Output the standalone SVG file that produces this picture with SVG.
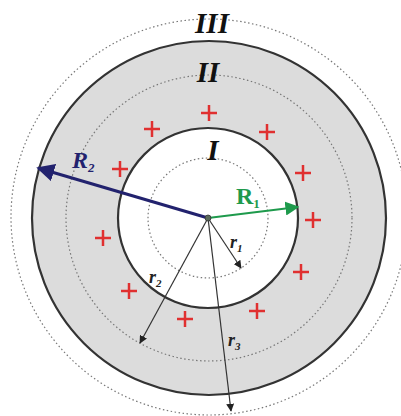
<svg xmlns="http://www.w3.org/2000/svg" width="401" height="416" viewBox="0 0 401 416">
<defs>
<style>
.dot{fill:none;stroke:#777;stroke-width:1.2;stroke-dasharray:1.5 2.5}
.sol{stroke:#333;stroke-width:2.2}
.plus{fill:none;stroke:#e03030;stroke-width:2.5}
.roman{font-family:"Liberation Serif",serif;font-weight:bold;font-style:italic;fill:#111;text-anchor:middle}
.lab{font-family:"Liberation Serif",serif;font-style:italic;font-weight:bold;fill:#222}
.thin{stroke:#333;stroke-width:1.2;fill:none}
</style>
<marker id="ab" viewBox="0 0 10 10" refX="9" refY="5" markerWidth="8" markerHeight="8" orient="auto" markerUnits="userSpaceOnUse"><path d="M0,0 L10,5 L0,10 Z" fill="#222"/></marker>
<marker id="an" viewBox="0 0 10 10" refX="9" refY="5" markerWidth="18" markerHeight="18" orient="auto" markerUnits="userSpaceOnUse"><path d="M0,0 L10,5 L0,10 Z" fill="#22226e"/></marker>
<marker id="ag" viewBox="0 0 10 10" refX="9" refY="5" markerWidth="14" markerHeight="14" orient="auto" markerUnits="userSpaceOnUse"><path d="M0,0 L10,5 L0,10 Z" fill="#1e9a4c"/></marker>
<path id="p" d="M-8,0 H8 M0,-8 V8"/>
</defs>
<rect width="401" height="416" fill="#fff"/>
<g id="region3"><circle cx="209" cy="217" r="198" class="dot"/></g>
<g id="region2"><circle cx="209" cy="218" r="177" fill="#dcdcdc" class="sol"/><circle cx="209" cy="218" r="143" class="dot"/></g>
<g id="region1"><circle cx="208" cy="218" r="90" fill="#fff" class="sol"/><circle cx="208" cy="218" r="60" class="dot"/></g>
<g id="charges">
<use href="#p" x="209" y="113" class="plus"/>
<use href="#p" x="152" y="129" class="plus"/>
<use href="#p" x="267" y="132" class="plus"/>
<use href="#p" x="120" y="169" class="plus"/>
<use href="#p" x="303" y="173" class="plus"/>
<use href="#p" x="313" y="220" class="plus"/>
<use href="#p" x="103" y="238" class="plus"/>
<use href="#p" x="301" y="272" class="plus"/>
<use href="#p" x="129" y="291" class="plus"/>
<use href="#p" x="185" y="319" class="plus"/>
<use href="#p" x="257" y="311" class="plus"/>
</g>
<g id="connectors">
<line x1="208" y1="218" x2="38" y2="168" stroke="#22226e" stroke-width="3" marker-end="url(#an)"/>
<line x1="208" y1="218" x2="298" y2="207" stroke="#1e9a4c" stroke-width="2" marker-end="url(#ag)"/>
<line x1="208" y1="218" x2="241" y2="268" class="thin" marker-end="url(#ab)"/>
<line x1="208" y1="218" x2="140" y2="343" class="thin" marker-end="url(#ab)"/>
<line x1="208" y1="218" x2="231" y2="411" class="thin" marker-end="url(#ab)"/>
</g>
<circle cx="208" cy="218" r="3" fill="#5a6a5a" stroke="#333" stroke-width="0.8"/>
<g id="labels">
<text x="212" y="33" font-size="29" class="roman">III</text>
<text x="208" y="82" font-size="29" class="roman">II</text>
<text x="213" y="160" font-size="29" class="roman">I</text>
<text x="72" y="168" font-size="24" font-family="Liberation Serif,serif" font-weight="bold" font-style="italic" fill="#22226e">R<tspan font-size="13" dy="4">2</tspan></text>
<text x="236" y="204" font-size="24" font-family="Liberation Serif,serif" font-weight="bold" fill="#1e9a4c">R<tspan font-size="13" dy="4">1</tspan></text>
<text x="230" y="248" font-size="18" class="lab">r<tspan font-size="11" dy="4">1</tspan></text>
<text x="149" y="283" font-size="18" class="lab">r<tspan font-size="11" dy="4">2</tspan></text>
<text x="228" y="346" font-size="18" class="lab">r<tspan font-size="11" dy="4">3</tspan></text>
</g>
</svg>
